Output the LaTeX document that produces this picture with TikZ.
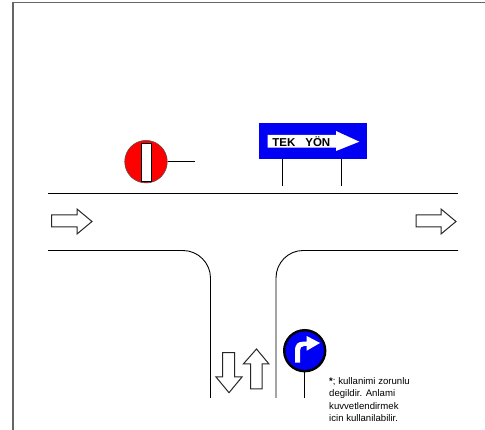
\documentclass[tikz,border=0pt]{standalone}
\usepackage{fontspec}
\setmainfont{Liberation Sans}
\definecolor{signblue}{RGB}{0,0,245}
\definecolor{signred}{RGB}{255,0,0}
\tikzset{
  road/.style={draw=black,line width=0.9pt},
  frameline/.style={draw=black!60,line width=1.4pt},
  post/.style={draw=black,line width=1pt},
  outl/.style={draw=black!85,fill=white,line width=1pt,line join=miter},
  note/.style={font=\fontsize{9.6}{11}\selectfont,anchor=base west,inner sep=0pt,text=black}
}
\begin{document}
\begin{tikzpicture}[x=1pt,y=-1pt]
\useasboundingbox (0,0) rectangle (485,430);
\fill[white] (0,0) rectangle (485,430);
% frame
\coordinate (fa) at (13,430);
\coordinate (fb) at (13,2.8);
\coordinate (fc) at (485,2.8);
\draw[frameline] (fa) -- (fb) -- (fc);
% road
\coordinate (r1) at (48,193.5);
\coordinate (r2) at (458,193.5);
\draw[road] (r1) -- (r2);
\coordinate (l1) at (48,250.5);
\coordinate (l2) at (183,250.5);
\coordinate (l3) at (210.5,278);
\coordinate (l4) at (210.5,398);
\draw[road] (l1) -- (l2) .. controls (198,250.5) and (210.5,263) .. (l3) -- (l4);
\coordinate (m1) at (458,250.5);
\coordinate (m2) at (303,250.5);
\coordinate (m3) at (276,278);
\coordinate (m4) at (276,398);
\draw[road] (m1) -- (m2) .. controls (288,250.5) and (276,263) .. (m3) -- (m4);
% road arrows
\draw[outl] (51.5,215) -- (77,215) -- (77,209) -- (92,221.5) -- (77,234) -- (77,227) -- (51.5,227) -- cycle;
\draw[outl] (416,215) -- (441,215) -- (441,209) -- (456,221.5) -- (441,234) -- (441,227) -- (416,227) -- cycle;
\draw[outl] (222.7,352.7) -- (234.7,352.7) -- (234.7,377) -- (242,377) -- (229,392.7) -- (216,377) -- (222.7,377) -- cycle;
\draw[outl] (250.7,389) -- (262,389) -- (262,364) -- (269,364) -- (256.5,349) -- (243.3,364) -- (250.7,364) -- cycle;
% red sign
\node[circle,fill=signred,draw=black!70,line width=0.5pt,minimum size=42.6pt,inner sep=0pt] (red) at (146,161.7) {};
\node[rectangle,fill=white,draw=black,line width=0.9pt,minimum width=10pt,minimum height=38.4pt,inner sep=0pt] (redbar) at (146.7,162.5) {};
\coordinate (redend) at (195,161.7);
\draw[post] (red.east) -- (redend);
% blue sign
\node[rectangle,fill=signblue,minimum width=107.4pt,minimum height=36pt,inner sep=0pt] (blue) at (313,141.3) {};
\coordinate (p1top) at (282,159.3);
\coordinate (p1bot) at (282,186);
\coordinate (p2top) at (341,159.3);
\coordinate (p2bot) at (341,186);
\draw[post] (p1top) -- (p1bot);
\draw[post] (p2top) -- (p2bot);
\fill[white] (267.7,135) -- (336,135) -- (336,131) -- (359.3,141.7) -- (336,151) -- (336,147.7) -- (267.7,147.7) -- cycle;
\node[font=\bfseries\fontsize{11.5}{13}\selectfont,inner sep=0pt,text=black] (tek) at (301.3,141.5) {TEK\hspace{10pt}Y\"ON};
% round sign
\node[circle,fill=signblue,draw=black,line width=2.4pt,minimum size=41pt,inner sep=0pt] (turn) at (304.7,350.7) {};
\coordinate (polebot) at (304,398);
\draw[post] (turn.south) ++(-0.7,0) -- (polebot);
\fill[white] (295,362.7) -- (295,351) .. controls (295,344) and (298,341.7) .. (303,341.7) -- (306.7,341.7) -- (306.7,336) -- (320,343) -- (306.7,350.7) -- (306.7,346) -- (304,346) .. controls (301,346) and (300,348) .. (300,351) -- (300,362.7) -- cycle;
% note
\node[note] (n1) at (329,385) {\textbf{*}; kullanimi zorunlu};
\node[note] (n2) at (329,397) {degildir. Anlami};
\node[note] (n3) at (329,409.5) {kuvvetlendirmek};
\node[note] (n4) at (329,421.7) {icin kullanilabilir.};
\end{tikzpicture}
\end{document}
